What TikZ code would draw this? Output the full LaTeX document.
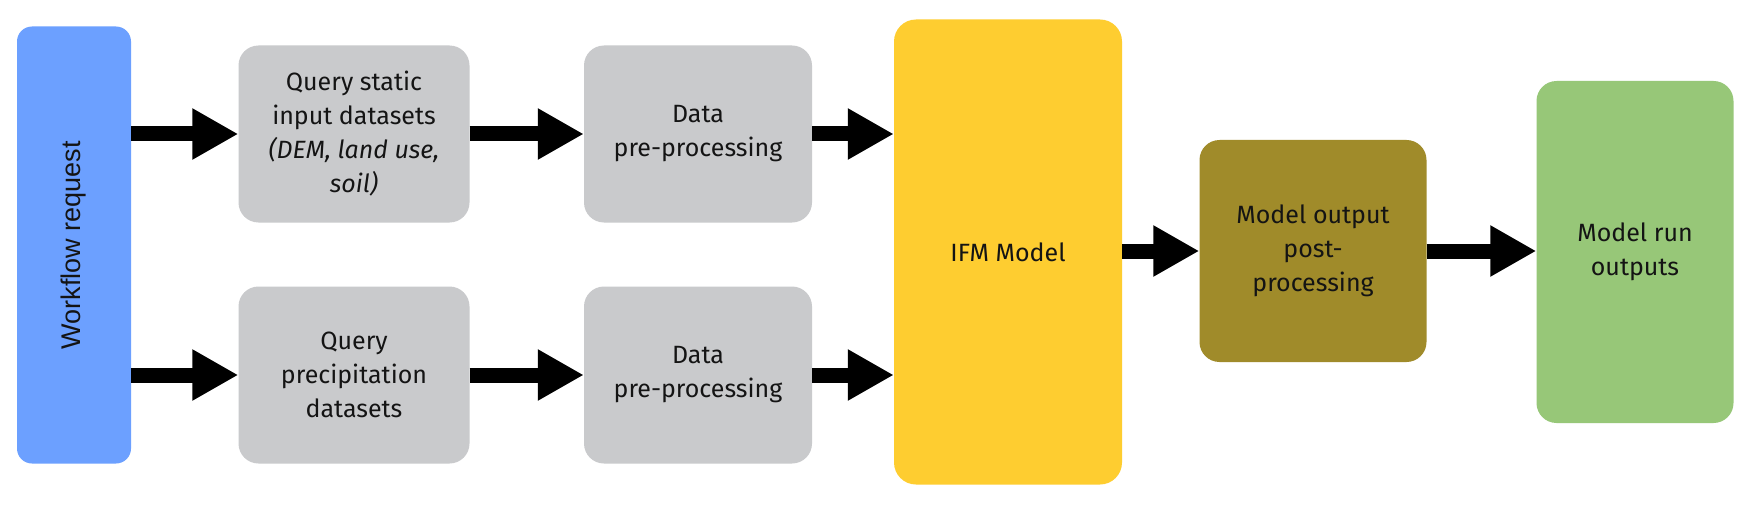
\documentclass[tikz,border=0pt]{standalone}
\usepackage{fontspec}
\setmainfont{Fira Sans}
\newfontfamily\wffont{Liberation Sans}
\usetikzlibrary{arrows.meta}
\definecolor{cblue}{RGB}{108,160,255}
\definecolor{cgrey}{RGB}{201,202,204}
\definecolor{cyellow}{RGB}{254,205,48}
\definecolor{colive}{RGB}{160,139,42}
\definecolor{cgreen}{RGB}{151,199,120}
\definecolor{ctext}{RGB}{20,20,20}
\tikzset{
  box/.style={rounded corners=20pt, inner sep=0pt, align=center, text=ctext,
    font=\fontsize{25}{34}\selectfont},
  bigarrow/.style={line width=15pt, -{Triangle[length=46pt,width=48pt]}, black}
}
\begin{document}
\begin{tikzpicture}[x=1pt,y=-1pt]
\useasboundingbox[fill=white] (0,0) rectangle (1758,508);
\node[box, fill=cblue, rounded corners=15pt, minimum width=114pt, minimum height=437pt] (wf) at (74,245) {};
\node[rotate=90, text=ctext, font=\wffont\fontsize{27}{32}\selectfont] (wft) at (wf.center) {Workflow request};
\node[box, fill=cgrey, minimum width=231pt, minimum height=177pt] (q1) at (354,134) {Query static\\input datasets\\\itshape (DEM, land use,\\\itshape soil)};
\node[box, fill=cgrey, minimum width=231pt, minimum height=177pt] (q2) at (354,375) {Query\\precipitation\\datasets};
\node[box, fill=cgrey, minimum width=228pt, minimum height=177pt] (d1) at (698,134) {Data\\pre-processing};
\node[box, fill=cgrey, minimum width=228pt, minimum height=177pt] (d2) at (698,375) {Data\\pre-processing};
\node[box, fill=cyellow, rounded corners=22pt, minimum width=228pt, minimum height=465pt] (ifm) at (1008,252) {IFM Model};
\node[box, fill=colive, minimum width=227pt, minimum height=222pt] (po) at (1313,251) {Model output\\post-\\processing};
\node[box, fill=cgreen, minimum width=197pt, minimum height=342pt] (out) at (1635,252) {Model run\\outputs};
\draw[bigarrow] (wf.east |- q1.west) -- (q1.west);
\draw[bigarrow] (wf.east |- q2.west) -- (q2.west);
\draw[bigarrow] (q1.east) -- (d1.west);
\draw[bigarrow] (q2.east) -- (d2.west);
\draw[bigarrow] (d1.east) -- (ifm.west |- d1.east);
\draw[bigarrow] (d2.east) -- (ifm.west |- d2.east);
\draw[bigarrow] (ifm.east |- po.west) -- (po.west);
\draw[bigarrow] (po.east) -- (out.west |- po.east);
\end{tikzpicture}
\end{document}
